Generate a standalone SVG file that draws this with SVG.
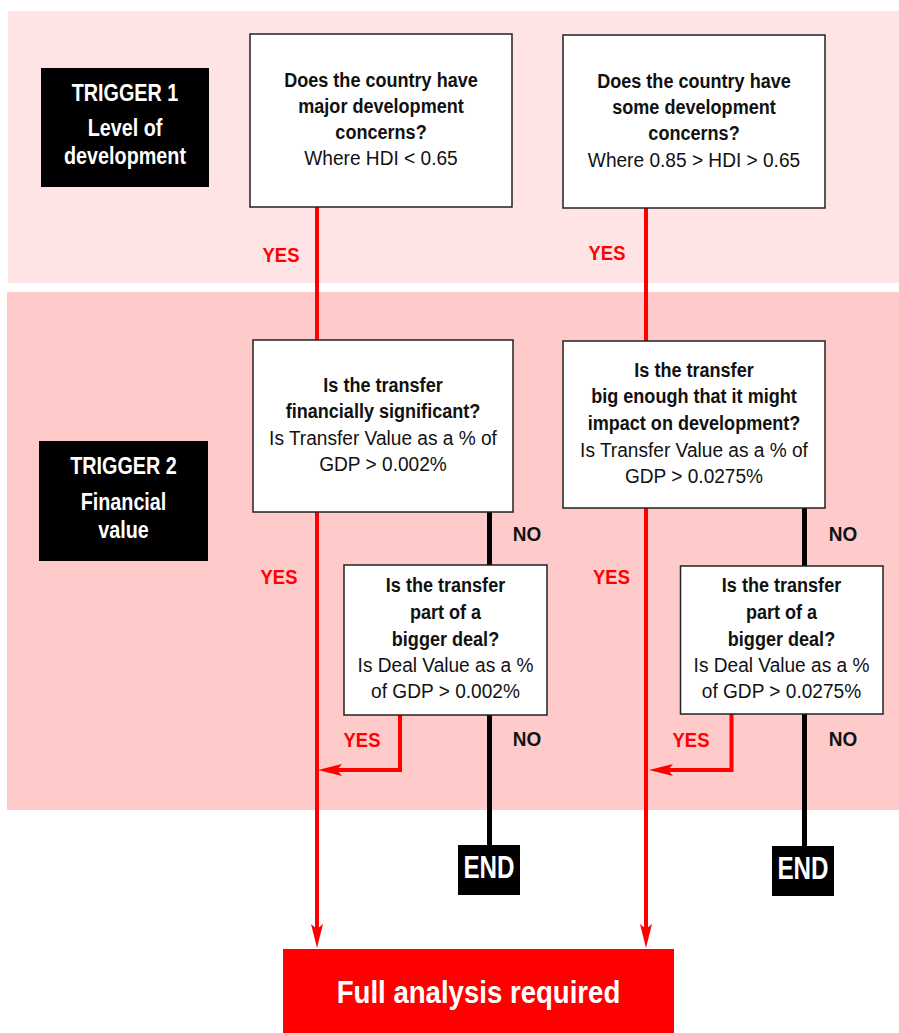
<svg xmlns="http://www.w3.org/2000/svg" width="899" height="1033" viewBox="0 0 899 1033">
<style>
  text { font-family: "Liberation Sans", Arial, sans-serif; text-anchor: middle; }
  .q { font-size: 21px; font-weight: bold; fill: #111; }
  .r { font-size: 21px; fill: #111; }
  .trig { font-size: 23px; font-weight: bold; fill: #fff; }
  .yes { font-size: 20px; font-weight: bold; fill: #ff0000; }
  .no { font-size: 20px; font-weight: bold; fill: #111; }
  .end { font-size: 31px; font-weight: bold; fill: #fff; }
  .full { font-size: 31px; font-weight: bold; fill: #fff; }
  .box { fill: #fff; stroke: #222; stroke-width: 1.5; }
  .red { fill: none; stroke: #ff0000; stroke-width: 4; }
  .blk { fill: none; stroke: #000; stroke-width: 5; }
</style>
<defs>
  <marker id="ah" viewBox="0 0 24 12" refX="13" refY="6" markerWidth="24" markerHeight="12" markerUnits="userSpaceOnUse" orient="auto">
    <path d="M0,0 L24,6 L0,12 L5,6 Z" fill="#ff0000"/>
  </marker>
</defs>

<rect id="band1" x="8" y="11" width="891" height="272" fill="#fee4e4"/>
<rect id="band2" x="7" y="292" width="892" height="518" fill="#fecaca"/>

<g id="connectors">
  <line class="red" x1="317" y1="207" x2="317" y2="937" marker-end="url(#ah)"/>
  <line class="red" x1="646" y1="208" x2="646" y2="937" marker-end="url(#ah)"/>
  <line class="blk" x1="489.5" y1="512" x2="489.5" y2="566"/>
  <line class="blk" x1="489.5" y1="715" x2="489.5" y2="846"/>
  <line class="blk" x1="804.5" y1="508" x2="804.5" y2="566"/>
  <line class="blk" x1="804.5" y1="714" x2="804.5" y2="847"/>
  <path class="red" d="M400,715 V770 H329" marker-end="url(#ah)"/>
  <path class="red" d="M731.5,714 V770 H660" marker-end="url(#ah)"/>
</g>

<g id="labels">
  <text class="yes" transform="matrix(0.92,0,0,1,281,262)">YES</text>
  <text class="yes" transform="matrix(0.92,0,0,1,607,260)">YES</text>
  <text class="yes" transform="matrix(0.92,0,0,1,279,584)">YES</text>
  <text class="yes" transform="matrix(0.92,0,0,1,611.5,584)">YES</text>
  <text class="yes" transform="matrix(0.92,0,0,1,362,747)">YES</text>
  <text class="yes" transform="matrix(0.92,0,0,1,691,747)">YES</text>
  <text class="no" transform="matrix(0.95,0,0,1,527,541)">NO</text>
  <text class="no" transform="matrix(0.95,0,0,1,527,746)">NO</text>
  <text class="no" transform="matrix(0.95,0,0,1,843,541)">NO</text>
  <text class="no" transform="matrix(0.95,0,0,1,843,746)">NO</text>
</g>

<g id="trigger1">
  <rect x="41" y="68" width="168" height="119" fill="#000"/>
  <text class="trig" transform="matrix(0.86,0,0,1,125,101)">TRIGGER 1</text>
  <text class="trig" transform="matrix(0.86,0,0,1,125,136)">Level of</text>
  <text class="trig" transform="matrix(0.86,0,0,1,125,164)">development</text>
</g>

<g id="trigger2">
  <rect x="39" y="441" width="169" height="120" fill="#000"/>
  <text class="trig" transform="matrix(0.86,0,0,1,123.5,474)">TRIGGER 2</text>
  <text class="trig" transform="matrix(0.86,0,0,1,123.5,510)">Financial</text>
  <text class="trig" transform="matrix(0.86,0,0,1,123.5,538)">value</text>
</g>

<g id="q1">
  <rect class="box" x="250" y="34" width="262" height="173"/>
  <text class="q" transform="matrix(0.86,0,0,1,381,87)">Does the country have</text>
  <text class="q" transform="matrix(0.86,0,0,1,381,113)">major development</text>
  <text class="q" transform="matrix(0.86,0,0,1,381,139)">concerns?</text>
  <text class="r" transform="matrix(0.91,0,0,1,381,165)">Where HDI &lt; 0.65</text>
</g>

<g id="q2">
  <rect class="box" x="563" y="35" width="262" height="173"/>
  <text class="q" transform="matrix(0.86,0,0,1,694,88)">Does the country have</text>
  <text class="q" transform="matrix(0.86,0,0,1,694,114)">some development</text>
  <text class="q" transform="matrix(0.86,0,0,1,694,140)">concerns?</text>
  <text class="r" transform="matrix(0.91,0,0,1,694,167)">Where 0.85 &gt; HDI &gt; 0.65</text>
</g>

<g id="q3">
  <rect class="box" x="253" y="340" width="260" height="172"/>
  <text class="q" transform="matrix(0.86,0,0,1,383,392)">Is the transfer</text>
  <text class="q" transform="matrix(0.86,0,0,1,383,418)">financially significant?</text>
  <text class="r" transform="matrix(0.91,0,0,1,383,445)">Is Transfer Value as a % of</text>
  <text class="r" transform="matrix(0.91,0,0,1,383,471)">GDP &gt; 0.002%</text>
</g>

<g id="q4">
  <rect class="box" x="563" y="341" width="262" height="167"/>
  <text class="q" transform="matrix(0.86,0,0,1,694,377)">Is the transfer</text>
  <text class="q" transform="matrix(0.86,0,0,1,694,403)">big enough that it might</text>
  <text class="q" transform="matrix(0.86,0,0,1,694,430)">impact on development?</text>
  <text class="r" transform="matrix(0.91,0,0,1,694,457)">Is Transfer Value as a % of</text>
  <text class="r" transform="matrix(0.91,0,0,1,694,483)">GDP &gt; 0.0275%</text>
</g>

<g id="q5">
  <rect class="box" x="344" y="565" width="203" height="150"/>
  <text class="q" transform="matrix(0.86,0,0,1,445.5,592)">Is the transfer</text>
  <text class="q" transform="matrix(0.86,0,0,1,445.5,619)">part of a</text>
  <text class="q" transform="matrix(0.86,0,0,1,445.5,646)">bigger deal?</text>
  <text class="r" transform="matrix(0.91,0,0,1,445.5,672)">Is Deal Value as a %</text>
  <text class="r" transform="matrix(0.91,0,0,1,445.5,698)">of GDP &gt; 0.002%</text>
</g>

<g id="q6">
  <rect class="box" x="680.5" y="566" width="202.5" height="148"/>
  <text class="q" transform="matrix(0.86,0,0,1,781.5,592)">Is the transfer</text>
  <text class="q" transform="matrix(0.86,0,0,1,781.5,619)">part of a</text>
  <text class="q" transform="matrix(0.86,0,0,1,781.5,646)">bigger deal?</text>
  <text class="r" transform="matrix(0.91,0,0,1,781.5,672)">Is Deal Value as a %</text>
  <text class="r" transform="matrix(0.91,0,0,1,781.5,698)">of GDP &gt; 0.0275%</text>
</g>

<g id="end1">
  <rect x="458" y="845" width="62" height="50" fill="#000"/>
  <text class="end" transform="matrix(0.78,0,0,1,489,878)">END</text>
</g>

<g id="end2">
  <rect x="772" y="846" width="62" height="50" fill="#000"/>
  <text class="end" transform="matrix(0.78,0,0,1,803,879)">END</text>
</g>

<g id="full">
  <rect x="283" y="949" width="391" height="84" fill="#ff0000"/>
  <text class="full" transform="matrix(0.89,0,0,1,478.5,1003)">Full analysis required</text>
</g>
</svg>
